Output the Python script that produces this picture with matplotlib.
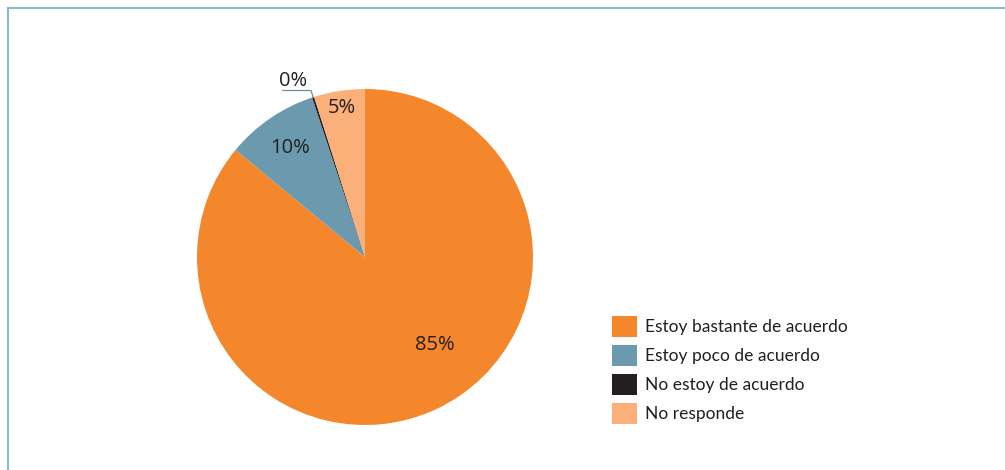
import matplotlib
matplotlib.use("Agg")
import matplotlib.pyplot as plt
import numpy as np

categories = ["Estoy bastante de acuerdo", "Estoy poco de acuerdo", "No estoy de acuerdo", "No responde"]
values = [86.0, 8.9, 0.2, 4.9]
pct_labels = ["85%", "10%", "0%", "5%"]
colors = ["#F4862B", "#6B9AAE", "#231F20", "#FBB07A"]

W, H = 1005, 470
fig = plt.figure(figsize=(W / 100, H / 100), dpi=100)
plt.rcParams['font.family'] = ['Open Sans', 'DejaVu Sans']
txtcol = "#231F20"

# frame
fig.add_artist(plt.Line2D([8 / W, 1], [1 - 8 / H, 1 - 8 / H], color="#8FB8C8", lw=1.5))
fig.add_artist(plt.Line2D([8 / W, 8 / W], [0, 1 - 8 / H], color="#8FB8C8", lw=1.5))

cx, cy, r = 365, 257, 168
ax = fig.add_axes([(cx - r) / W, (H - cy - r) / H, 2 * r / W, 2 * r / H])
wedges, _ = ax.pie(values, colors=colors, startangle=90, counterclock=False, radius=1,
                   wedgeprops=dict(linewidth=0))
ax.set_xlim(-1, 1)
ax.set_ylim(-1, 1)
ax.set_aspect("equal")
ax.axis("off")

# label placement (layout only)
label_pos = [(0.417, -0.524), (-0.446, 0.649), (-0.43, 1.05), (-0.137, 0.887)]
for w, lab, (lx, ly) in zip(wedges, pct_labels, label_pos):
    ax.text(lx, ly, lab, ha="center", va="center", fontsize=14.5, color=txtcol)

# leader line for the tiny slice
w = wedges[2]
ang = np.deg2rad((w.theta1 + w.theta2) / 2)
px, py = np.cos(ang), np.sin(ang)
ax.plot([px, px - 0.012, px - 0.18], [py, py + 0.04, py + 0.04], color="#6B8F9F", lw=0.9,
        clip_on=False)

leg = fig.legend(wedges, categories, loc="upper left", bbox_to_anchor=(596 / W, 1 - 300 / H),
                 frameon=False, handlelength=1.45, handleheight=1.55,
                 handletextpad=0.5, labelspacing=0.42, labelcolor=txtcol,
                 prop={'family': ['Lato', 'DejaVu Sans'], 'size': 12.5})

fig.savefig("out.png", dpi=100)
